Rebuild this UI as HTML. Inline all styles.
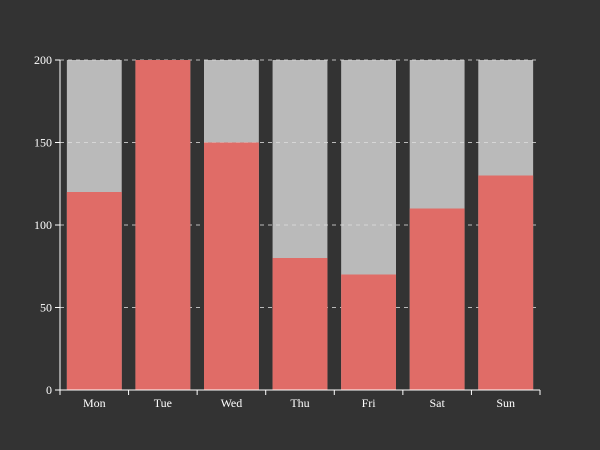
<!DOCTYPE html>
<html><head><meta charset="utf-8"><style>
html,body{margin:0;padding:0;background:#333333;}
svg{display:block;font-family:"Liberation Serif",serif;}
</style></head><body>
<svg id="chart" width="600" height="450"></svg>
<script>
const categories=["Mon","Tue","Wed","Thu","Fri","Sat","Sun"];
const values=[120,200,150,80,70,110,130];
const yTicks=[0,50,100,150,200];
const yMax=200;
const L=60,R=540,T=60,B=390;
const NS="http://www.w3.org/2000/svg";
const svg=document.getElementById('chart');
function y(v){return B-(v/yMax)*(B-T);}
const band=(R-L)/categories.length;
function x(i){return L+i*band;}
function mk(t,a,p){const e=document.createElementNS(NS,t);for(const k in a)e.setAttribute(k,a[k]);(p||svg).appendChild(e);return e;}
const bw=band*0.8;
categories.forEach((c,i)=>{
  const r=mk('rect',{x:x(i)+band*0.1,y:y(yMax),width:bw,height:y(0)-y(yMax),fill:'#bababa'});
  
  
});
yTicks.forEach(v=>{
  if(v>0){const g=mk('line',{x1:L,x2:R,y1:y(v),y2:y(v),stroke:'#dddddd','stroke-width':1,'stroke-dasharray':'4,4',opacity:0.8});
  
  }
  const t=mk('line',{x1:L-5,x2:L,y1:y(v),y2:y(v),stroke:'#fff'});
  
  
  const l=mk('text',{x:L-8,y:y(v)+4,'text-anchor':'end','font-size':12,fill:'#fff'});
  l.textContent=v;
  
  
});
categories.forEach((c,i)=>{
  const r=mk('rect',{x:x(i)+band*0.1,y:y(values[i]),width:bw,height:y(0)-y(values[i]),fill:'#e06c67'});
  
  
  const l=mk('text',{x:x(i)+band/2,y:407,'text-anchor':'middle','font-size':12,fill:'#fff'});
  l.textContent=c;
  
  
});
for(let i=0;i<=categories.length;i++){
  const t=mk('line',{x1:x(i),x2:x(i),y1:B,y2:B+5,stroke:'#fff'});
  
  
}
const ya=mk('line',{x1:L,x2:L,y1:T,y2:B,stroke:'#fff'});


const xa=mk('line',{x1:L-5,x2:R,y1:B,y2:B,stroke:'#fff'});


</script>
</body></html>
